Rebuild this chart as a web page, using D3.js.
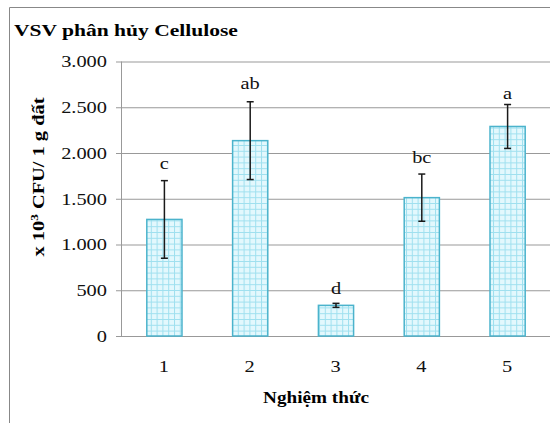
<!DOCTYPE html>
<html>
<head>
<meta charset="utf-8">
<script src="https://cdn.jsdelivr.net/npm/d3@7"></script>
<style>
  html, body { margin: 0; padding: 0; background: #fff; }
</style>
</head>
<body>
<svg id="chart" width="559" height="423"></svg>
<script>
const treatments = ['1', '2', '3', '4', '5'];
const means = [1274, 2135, 335, 1512, 2290];
const errors = [424, 425, 22, 258, 240];
const letters = ['c', 'ab', 'd', 'bc', 'a'];
const letterAt = [1887, 2759, 513, 1952, 2650];
const yTicks = [0, 500, 1000, 1500, 2000, 2500, 3000];

const svg = d3.select('#chart');
const margin = { left: 121, right: 9, top: 61.5, bottom: 87 };
const width = 559;
const height = 423;
const SERIF = '"Liberation Serif", "Times New Roman", serif';
const SX = 1.2; // reference text looks stretched sideways

const x = d3.scaleBand().domain(treatments).range([margin.left, width - margin.right]).paddingInner(0.59).paddingOuter(0.295);
const y = d3.scaleLinear().domain([0, 3000]).range([height - margin.bottom, margin.top]);

const vn = d3.formatLocale({ decimal: ',', thousands: '.', grouping: [3], currency: ['', ''] });
const fmt = vn.format(',');

// serif + stretch a text horizontally around its own x
function stretch(sel, s = SX) {
  sel.style('font-family', SERIF).each(function () {
    const t = d3.select(this);
    const tx = +t.attr('x') || 0;
    t.attr('x', tx / s).attr('transform', `scale(${s},1)`);
  });
}

// hatch pattern for bars (small grid)
const defs = svg.append('defs');
const pat = defs.append('pattern')
  .attr('id', 'grid')
  .attr('patternUnits', 'userSpaceOnUse')
  .attr('width', 5.8).attr('height', 5.8);
pat.append('rect').attr('width', 5.8).attr('height', 5.8).attr('fill', '#e3f8fd');
pat.append('path').attr('d', 'M0,0.5H5.8M0.5,0V5.8').attr('stroke', '#9fe0ef').attr('stroke-width', 1);

// outer frame (top + left)
svg.append('path')
  .attr('d', 'M9.5,423V7.5H550')
  .attr('fill', 'none').attr('stroke', '#888').attr('stroke-width', 1);

svg.append('text')
  .attr('x', 14).attr('y', 36)
  .attr('font-size', 17.5).attr('font-weight', 'bold')
  .text('VSV phân hủy Cellulose')
  .call(stretch, 1.23);

// gridlines + y axis
const yAxis = d3.axisLeft(y).tickValues(yTicks).tickFormat(fmt)
  .tickSize(-(width - margin.right - margin.left)).tickPadding(14);
const gy = svg.append('g').attr('transform', `translate(${margin.left},0)`).call(yAxis);
gy.select('.domain').remove();
gy.selectAll('.tick line').attr('stroke', '#999').attr('x1', -5);
gy.selectAll('.tick text').attr('font-size', 17).attr('fill', '#111').call(stretch);

svg.append('line')
  .attr('x1', margin.left + 0.5).attr('x2', margin.left + 0.5)
  .attr('y1', y(3000)).attr('y2', y(0))
  .attr('stroke', '#999');

// x tick labels
const xAxis = d3.axisBottom(x).tickSize(0).tickPadding(24);
const gx = svg.append('g').attr('transform', `translate(0,${y(0)})`).call(xAxis);
gx.select('.domain').remove();
gx.selectAll('.tick text').attr('font-size', 17).attr('fill', '#111').call(stretch);

// bars
svg.append('g').selectAll('rect')
  .data(treatments)
  .join('rect')
  .attr('x', (d) => x(d) + 0.5)
  .attr('y', (d, i) => y(means[i]))
  .attr('width', x.bandwidth())
  .attr('height', (d, i) => y(0) - y(means[i]))
  .attr('fill', 'url(#grid)')
  .attr('stroke', '#4bb3cc')
  .attr('stroke-width', 1.5);

// error bars
const eb = svg.append('g').attr('stroke', '#1a1a1a').attr('stroke-width', 1.5);
treatments.forEach((d, i) => {
  const cx = x(d) + x.bandwidth() / 2 + 0.5;
  const top = y(means[i] + errors[i]);
  const bot = y(means[i] - errors[i]);
  eb.append('line').attr('x1', cx).attr('x2', cx).attr('y1', top).attr('y2', bot);
  eb.append('line').attr('x1', cx - 3.5).attr('x2', cx + 3.5).attr('y1', top).attr('y2', top);
  eb.append('line').attr('x1', cx - 3.5).attr('x2', cx + 3.5).attr('y1', bot).attr('y2', bot);
});

// significance letters
svg.append('g').selectAll('text')
  .data(treatments)
  .join('text')
  .attr('x', (d) => x(d) + x.bandwidth() / 2 + 0.5)
  .attr('y', (d, i) => y(letterAt[i]))
  .attr('dy', '0.32em')
  .attr('text-anchor', 'middle')
  .attr('font-size', 17)
  .attr('fill', '#111')
  .text((d, i) => letters[i])
  .call(stretch);

// axis titles
svg.append('text')
  .attr('x', 316).attr('y', 403)
  .attr('text-anchor', 'middle')
  .attr('font-size', 17).attr('font-weight', 'bold')
  .text('Nghiệm thức')
  .call(stretch, 1.13);

const yl = svg.append('text')
  .attr('transform', `translate(44,177) rotate(-90) scale(${SX},1)`)
  .attr('text-anchor', 'middle')
  .style('font-family', SERIF)
  .attr('font-size', 17).attr('font-weight', 'bold');
yl.append('tspan').text('x 10');
yl.append('tspan').attr('baseline-shift', 'super').attr('font-size', 11).text('3');
yl.append('tspan').text(' CFU/ 1 g đất');
</script>
</body>
</html>
